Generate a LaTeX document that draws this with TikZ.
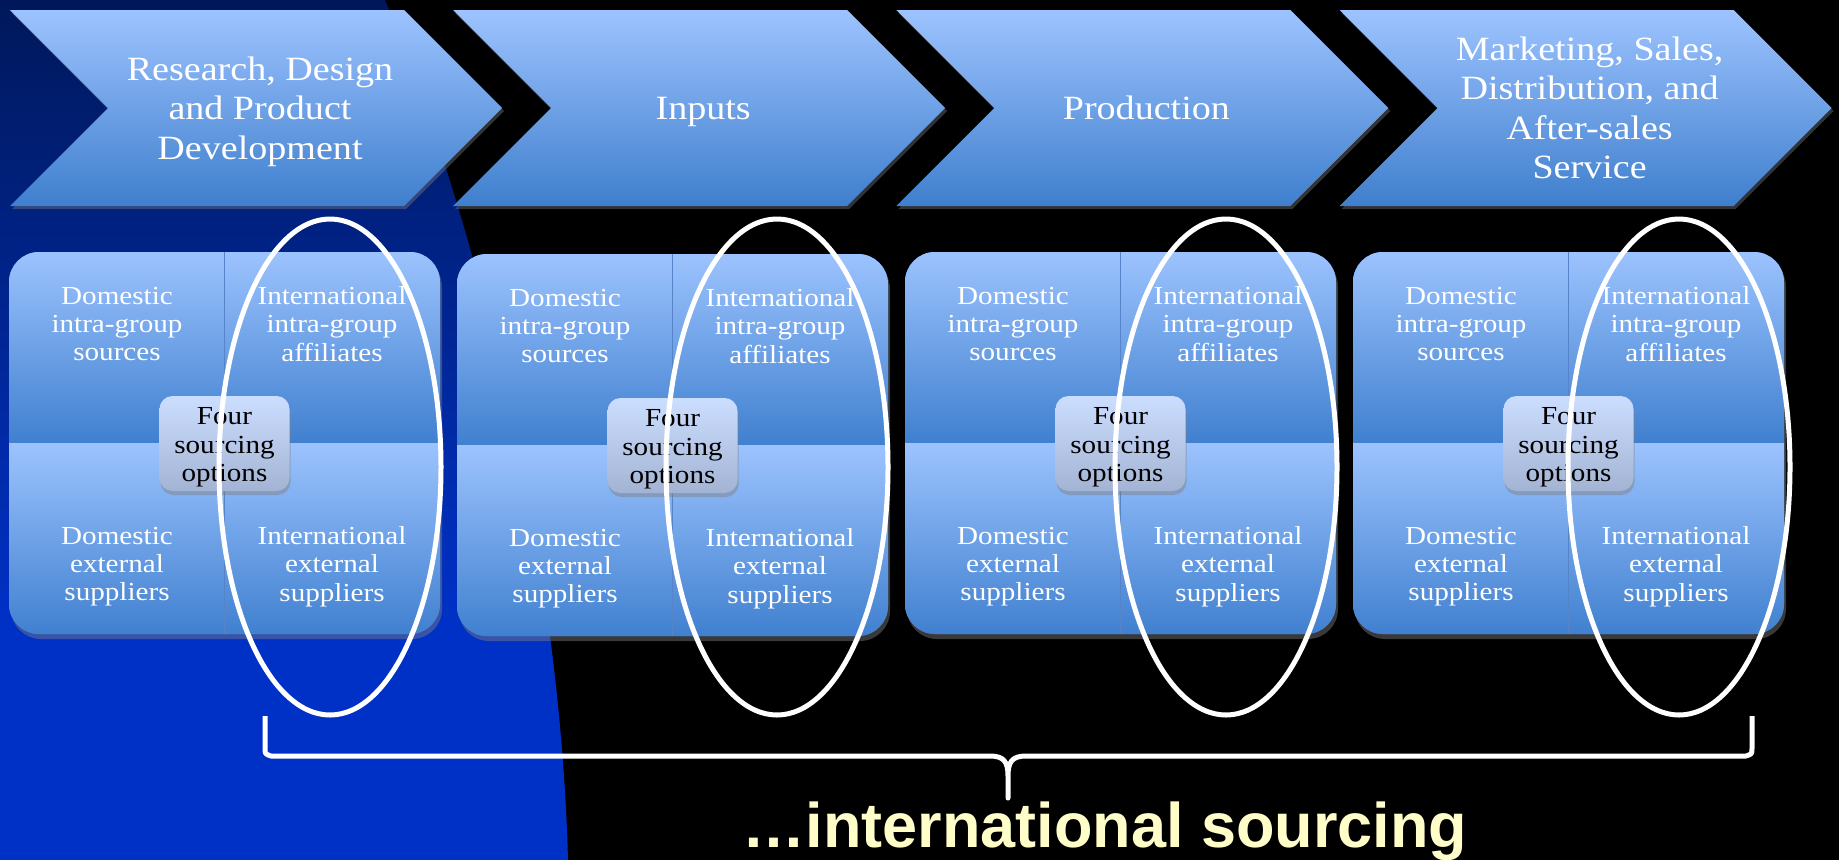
\documentclass[tikz,border=0pt]{standalone}
\usepackage{fontspec}
\setmainfont[FakeStretch=1.12]{Liberation Serif}
\newfontfamily\capsans{Liberation Sans}
\usetikzlibrary{shadows}
\definecolor{navytop}{HTML}{00185A}
\definecolor{navybot}{HTML}{0031C6}
\definecolor{chevtop}{HTML}{9DC3FF}
\definecolor{chevbot}{HTML}{3F7FCD}
\definecolor{quadtop}{HTML}{9CC3FE}
\definecolor{quadbot}{HTML}{4080CF}
\definecolor{labtop}{HTML}{CCDEFF}
\definecolor{labbot}{HTML}{A3B3D3}
\definecolor{divcol}{HTML}{5585C8}
\definecolor{ptyellow}{HTML}{FFFDC8}
\begin{document}
\begin{tikzpicture}[x=1pt,y=-1pt,
  chevshape/.style={top color=chevtop, bottom color=chevbot,
     drop shadow={opacity=0.4, shadow xshift=2pt, shadow yshift=-3pt}},
  chevtext/.style={text=white, align=center, inner sep=0pt,
     font=\fontsize{34}{39.5}\selectfont},
  quadtext/.style={text=white, align=center, inner sep=0pt,
     font=\fontsize{26}{28.3}\selectfont},
  srcbox/.style={top color=labtop, bottom color=labbot, rounded corners=13pt,
     minimum width=130pt, minimum height=95pt, inner sep=0pt, align=center,
     text=black, font=\fontsize{26}{28.3}\selectfont,
     drop shadow={opacity=0.45, shadow xshift=1pt, shadow yshift=-4pt}},
  ring/.style={draw=white, line width=5pt},
  brace/.style={draw=white, line width=5pt, line join=round}
]
\useasboundingbox (0,0) rectangle (1839,860);
\fill[black] (0,0) rectangle (1839,860);

% blue background region on the left
\begin{scope}
  \clip (0,0) -- (385,0) .. controls (480,230) and (560,560) .. (568,860) -- (0,860) -- cycle;
  \shade[top color=navytop, bottom color=navybot] (0,0) rectangle (700,620);
  \fill[navybot] (0,619) rectangle (700,860);
\end{scope}

% chevrons
\foreach \i/\dy/\txt in {0/3.5/{Research, Design\\and Product\\Development},
                     1/3.5/{Inputs},
                     2/0/{Production},
                     3/0/{Marketing, Sales,\\Distribution, and\\After-sales\\Service}}{
  \pgfmathsetmacro{\L}{10+443.2*\i}
  \path[chevshape] (\L,10) -- (\L+394,10) -- (\L+492,108) -- (\L+394,206)
     -- (\L,206) -- (\L+98,108) -- cycle;
  \node[chevtext] (chev\i) at (\L+250,108+\dy) {\txt};
}

% sourcing matrices
\foreach \i/\L/\dy in {0/9/0, 1/457/2, 2/905/0, 3/1353/0}{
  \pgfmathsetmacro{\T}{252+\dy}
  \pgfmathsetmacro{\B}{634+\dy}
  \pgfmathsetmacro{\M}{443+\dy}
  \path[rounded corners=30pt, fill=quadbot,
        drop shadow={opacity=0.45, shadow xshift=2pt, shadow yshift=-5pt}]
        (\L,\T) rectangle (\L+431,\B);
  \begin{scope}
    \clip[rounded corners=30pt] (\L,\T) rectangle (\L+431,\B);
    \shade[top color=quadtop, bottom color=quadbot] (\L-1,\T-1) rectangle (\L+432,\M);
    \shade[top color=quadtop, bottom color=quadbot] (\L-1,\M) rectangle (\L+432,\B+1);
    \draw[divcol, line width=1.2pt] (\L+215.5,\T) -- (\L+215.5,\B);
  \end{scope}
  \node[quadtext] (dig\i) at (\L+108,\T+72) {Domestic\\intra-group\\sources};
  \node[quadtext] (iig\i) at (\L+323,\T+72) {International\\intra-group\\affiliates};
  \node[quadtext] (dex\i) at (\L+108,\B-67.5) {Domestic\\external\\suppliers};
  \node[quadtext] (iex\i) at (\L+323,\B-67.5) {International\\external\\suppliers};
  \node[srcbox] (four\i) at (\L+215.5,\M+0.5) {\rule{0pt}{25pt}Four\\sourcing\\options};
}

% ellipses around international options
\foreach \cx in {330,777,1226,1679}{
  \draw[ring] (\cx,467) ellipse [x radius=111, y radius=248];
}

% brace
\coordinate (bl) at (265,716);
\coordinate (br) at (1752,716);
\coordinate (btip) at (1008,798);
\draw[brace] (bl) -- (265,748) .. controls (265,754) .. (271,756)
  -- (990,756) .. controls (1004,756) and (1008,762) .. (1008,776)
  -- (btip) -- (1008,776) .. controls (1008,762) and (1012,756) .. (1026,756)
  -- (1746,756) .. controls (1752,754) .. (1752,748) -- (br);

\node[anchor=base, inner sep=0pt, text=ptyellow,
      font=\capsans\bfseries\fontsize{63}{70}\selectfont] (title) at (1105,847)
      {…international sourcing};
\end{tikzpicture}
\end{document}
